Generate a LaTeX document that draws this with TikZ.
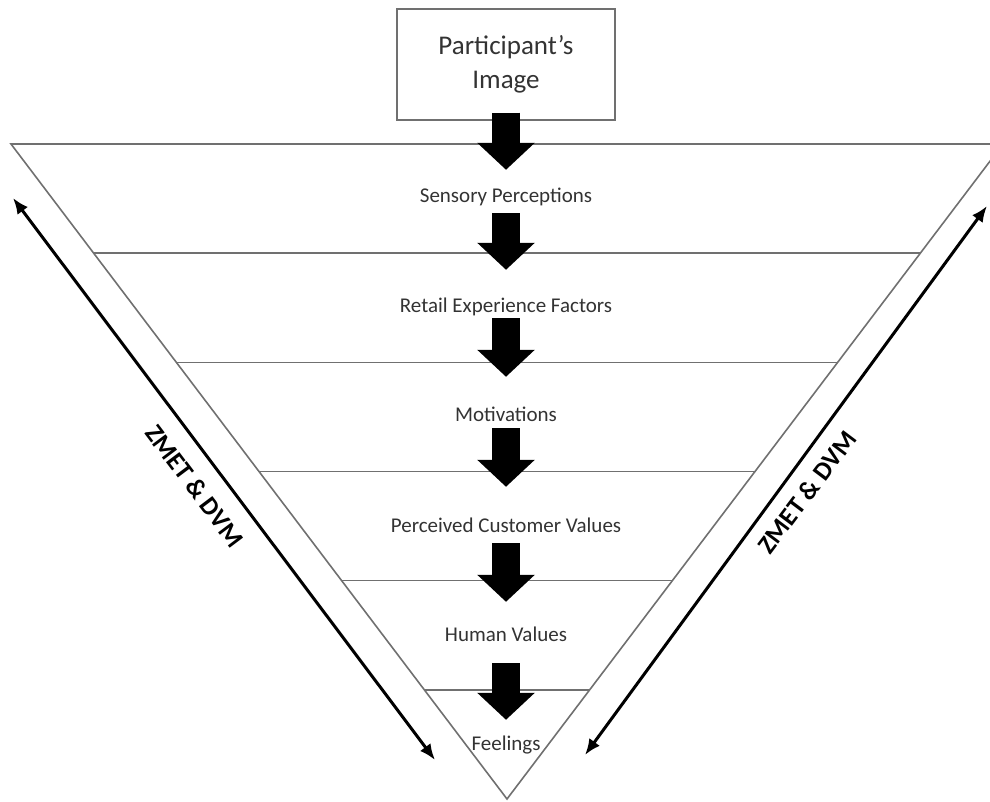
\documentclass[tikz,border=0pt]{standalone}
\usepackage{fontspec}
\setmainfont{Carlito}
\usetikzlibrary{positioning, arrows.meta, calc}
\definecolor{edgegray}{HTML}{707070}
\definecolor{textgray}{HTML}{333333}
\tikzset{
    layer/.style={draw=edgegray, line width=1.6pt},
    lvlabel/.style={font=\fontsize{21}{24}\selectfont, text=textgray, inner sep=0pt, text height=14pt, text depth=4pt},
    imgbox/.style={draw=edgegray, line width=1.2pt, minimum width=218pt, minimum height=111pt, align=center, font=\fontsize{27}{34}\selectfont, text=textgray},
    flow/.style={line width=28pt, black, -{Triangle[length=27pt, width=56pt]}},
    span/.style={line width=3pt, {Latex[length=16pt, width=13pt]}-{Latex[length=16pt, width=13pt]}},
    sidelabel/.style={font=\fontsize{26}{30}\selectfont\bfseries}
}

\begin{document}
\begin{tikzpicture}[x=1pt, y=1pt]
        \useasboundingbox (0,0) rectangle (990,801);

        % Inverted triangle and its layers
        \coordinate (tl) at (11,657);
        \coordinate (tr) at (1003,657);
        \coordinate (ap) at (507,2);
        \draw[layer] (tl) -- (tr) -- (ap) -- cycle;
        \foreach \k in {1,...,5}
            \draw[layer] ($(ap)!\k/6!(tl)$) -- ($(ap)!\k/6!(tr)$);

        % Box and layer labels
        \node[imgbox] (img) at (506,736.5) {Participant's\\Image};
        \node[lvlabel] (sens) at (506,603) {Sensory Perceptions};
        \node[lvlabel] (retail) at (506,493) {Retail Experience Factors};
        \node[lvlabel] (motiv) at (506,384) {Motivations};
        \node[lvlabel] (perc) at (506,274) {Perceived Customer Values};
        \node[lvlabel] (human) at (506,165) {Human Values};
        \node[lvlabel] (feel) at (506,56) {Feelings};

        % Block arrows between layers
        \foreach \a/\b/\s/\e in {img/sens/8/19, sens/retail/-6/29, retail/motiv/-1/31, motiv/perc/-2/31, perc/human/-7/25, human/feel/-18/16}
            \draw[flow] ([yshift=\s]\a.south) -- ([yshift=\e]\b.north);

        % Side arrows
        \coordinate (la) at (13,603);
        \coordinate (lb) at (435,41);
        \coordinate (ra) at (585,46);
        \coordinate (rb) at (987,595);
        \draw[span] (la) -- (lb);
        \draw[span] (ra) -- (rb);
        \node[sidelabel, rotate=-53] (zl) at (195,315) {ZMET \& DVM};
        \node[sidelabel, rotate=53] (zr) at (807,309) {ZMET \& DVM};
    \end{tikzpicture}
\end{document}
